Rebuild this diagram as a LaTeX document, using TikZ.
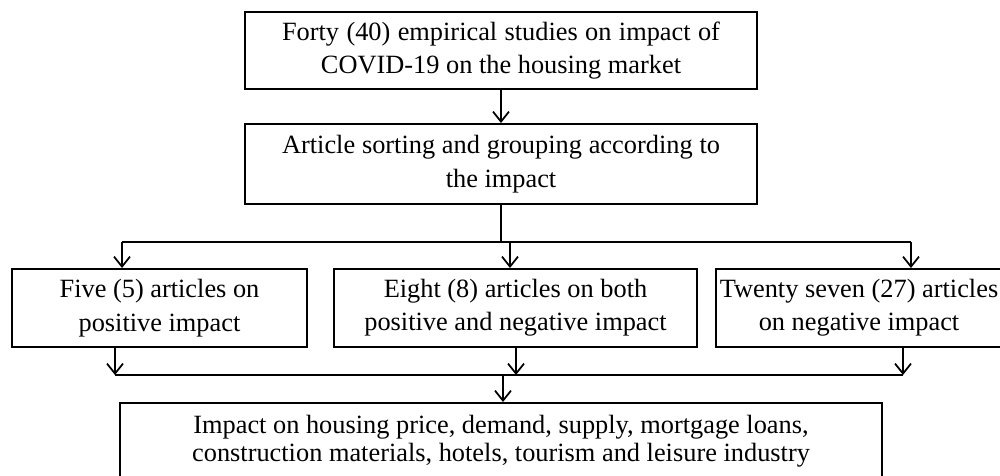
\documentclass[tikz,border=0pt]{standalone}
\usepackage{fontspec}
\setmainfont{Liberation Serif}
\usetikzlibrary{arrows.meta}
\begin{document}
\begin{tikzpicture}[x=0.02cm,y=-0.02cm,
  box/.style={draw,line width=1.1pt,inner sep=0pt,align=center,font=\fontsize{15}{19}\selectfont},
  conn/.style={line width=1pt},
  arr/.style={line width=1pt,-{Straight Barb[length=0.2cm,width=0.32cm,line width=1pt]}}]
\useasboundingbox (0,0) rectangle (1000,476);
\node[box,minimum width=10.24cm,minimum height=1.54cm] (top) at (501,50.5) {\makebox[8.76cm][s]{Forty (40) empirical studies on impact of}\\COVID-19 on the housing market};
\node[box,minimum width=10.24cm,minimum height=1.6cm] (sort) at (501,164) {\makebox[8.76cm][s]{Article sorting and grouping according to}\\the impact};
\node[box,minimum width=5.9cm,minimum height=1.56cm] (left) at (159.5,308) {Five (5) articles on\\positive impact};
\node[box,minimum width=7.26cm,minimum height=1.56cm] (mid) at (515.5,308) {Eight (8) articles on both\\positive and negative impact};
\node[box,minimum width=5.72cm,minimum height=1.56cm] (right) at (859,308) {Twenty seven (27) articles\\on negative impact};
\node[box,minimum width=15.24cm,minimum height=1.52cm,font=\fontsize{15}{16}\selectfont] (bot) at (501,441) {Impact on housing price, demand, supply, mortgage loans,\\construction materials, hotels, tourism and leisure industry};
\coordinate (ua) at (122,242);
\coordinate (ub) at (510,242);
\coordinate (uc) at (911,242);
\coordinate (la) at (115,375);
\coordinate (lb) at (516,375);
\coordinate (lc) at (903,375);
\coordinate (ld) at (503,375);
\draw[arr] (top) -- (sort);
\draw[conn] (sort.south) -- (sort.south |- ua);
\draw[conn] (ua) -- (uc);
\draw[arr] (ua) -- (ua |- left.north);
\draw[arr] (ub) -- (ub |- mid.north);
\draw[arr] (uc) -- (uc |- right.north);
\draw[arr] (la |- left.south) -- (la);
\draw[arr] (lb |- mid.south) -- (lb);
\draw[arr] (lc |- right.south) -- (lc);
\draw[conn] (la) -- (lc);
\draw[arr] (ld) -- (ld |- bot.north);
\end{tikzpicture}
\end{document}
